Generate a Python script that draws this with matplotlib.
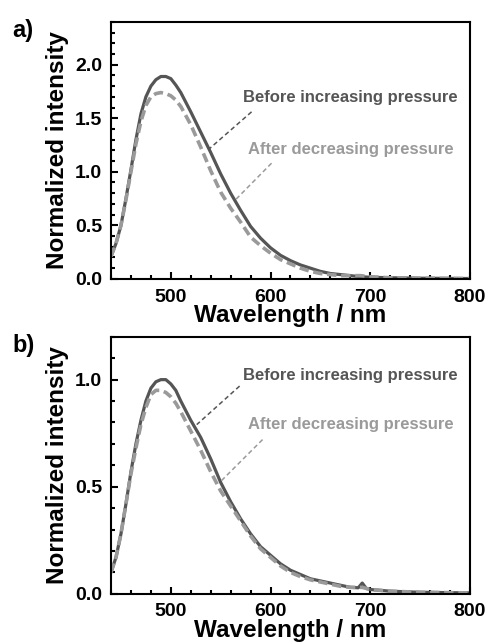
import numpy as np
import matplotlib
matplotlib.use('Agg')
import matplotlib.pyplot as plt
from matplotlib.ticker import MultipleLocator

plt.rcParams['font.family'] = ['Liberation Sans', 'DejaVu Sans']
plt.rcParams['font.weight'] = 'bold'

# Panel a) spectra
wl_a = [440, 445, 450, 455, 460, 465, 470, 475, 480, 485, 490, 495, 500, 505, 510,
        520, 530, 540, 550, 560, 570, 580, 590, 600, 610, 620, 630, 640, 650, 660,
        670, 680, 690, 700, 720, 750, 800]
before_a = [0.21, 0.33, 0.50, 0.75, 1.02, 1.30, 1.54, 1.70, 1.80, 1.86, 1.89, 1.89, 1.87, 1.81, 1.74,
            1.56, 1.37, 1.18, 0.98, 0.80, 0.64, 0.49, 0.38, 0.29, 0.22, 0.17, 0.13, 0.10, 0.07, 0.05,
            0.04, 0.03, 0.02, 0.015, 0.01, 0.006, 0.003]
after_a = [0.21, 0.33, 0.50, 0.74, 1.00, 1.26, 1.47, 1.62, 1.70, 1.73, 1.74, 1.73, 1.71, 1.67, 1.61,
           1.44, 1.23, 1.01, 0.81, 0.66, 0.53, 0.39, 0.31, 0.24, 0.18, 0.14, 0.10, 0.07, 0.05, 0.04,
           0.03, 0.03, 0.03, 0.02, 0.01, 0.006, 0.003]

# Panel b) spectra
wl_b = [440, 445, 450, 455, 460, 465, 470, 475, 480, 485, 490, 495, 500, 505, 510,
        520, 530, 540, 550, 560, 570, 580, 590, 600, 610, 620, 630, 640, 650, 660,
        670, 680, 688, 692, 696, 700, 720, 750, 800]
before_b = [0.10, 0.17, 0.28, 0.42, 0.57, 0.70, 0.81, 0.90, 0.96, 0.99, 1.00, 1.00, 0.98, 0.95, 0.90,
            0.81, 0.73, 0.63, 0.52, 0.43, 0.35, 0.28, 0.22, 0.18, 0.14, 0.11, 0.09, 0.07, 0.06, 0.05,
            0.04, 0.03, 0.028, 0.05, 0.025, 0.02, 0.012, 0.007, 0.004]
after_b = [0.10, 0.17, 0.28, 0.42, 0.56, 0.68, 0.79, 0.87, 0.93, 0.95, 0.95, 0.94, 0.92, 0.89, 0.85,
           0.76, 0.67, 0.57, 0.48, 0.41, 0.34, 0.27, 0.21, 0.17, 0.13, 0.10, 0.08, 0.065, 0.055, 0.045,
           0.035, 0.03, 0.03, 0.03, 0.025, 0.02, 0.012, 0.007, 0.004]

dark = '#555555'
light = '#9a9a9a'


def style_axes(ax, ymax, ymajor):
    ax.set_xlim(440, 800)
    ax.set_ylim(0, ymax)
    ax.xaxis.set_major_locator(MultipleLocator(100))
    ax.xaxis.set_minor_locator(MultipleLocator(20))
    ax.yaxis.set_major_locator(MultipleLocator(ymajor))
    ax.yaxis.set_minor_locator(MultipleLocator(0.1))
    ax.tick_params(which='both', direction='in', width=1.5, labelsize=14)
    ax.tick_params(axis='x', pad=7)
    ax.tick_params(axis='y', pad=6.5)
    ax.tick_params(which='major', length=5)
    ax.tick_params(which='minor', length=3)
    for lab in ax.get_xticklabels() + ax.get_yticklabels():
        lab.set_fontweight('bold')
    for s in ax.spines.values():
        s.set_linewidth(1.5)
    ax.set_xlabel('Wavelength / nm', fontsize=17.5, fontweight='bold', labelpad=-1)
    ax.set_ylabel('Normalized intensity', fontsize=17.5, fontweight='bold', labelpad=4)


def plot_panel(ax, wl, before, after, ymax, ymajor, texts, lines, tag):
    ax.plot(wl, before, color=dark, lw=2.3, solid_capstyle='round')
    ax.plot(wl, after, color=light, lw=2.6, dashes=(2.6, 1.3))
    style_axes(ax, ymax, ymajor)
    (bx, by), (axx, ay) = texts
    ax.text(bx, by, 'Before increasing pressure', color=dark, fontsize=12,
            fontweight='bold', ha='center', va='center')
    ax.text(axx, ay, 'After decreasing pressure', color=light, fontsize=12,
            fontweight='bold', ha='center', va='center')
    (l1, l2) = lines
    ax.plot(l1[0], l1[1], color=dark, lw=1.1, dashes=(3, 2))
    ax.plot(l2[0], l2[1], color=light, lw=1.1, dashes=(3, 2))
    ax.text(-0.275, 1.01, tag, transform=ax.transAxes, fontsize=17,
            fontweight='bold', ha='left', va='top')


fig = plt.figure(figsize=(4.89, 6.44), dpi=100)
ax1 = fig.add_axes([0.227, 0.567, 0.734, 0.399])
ax2 = fig.add_axes([0.227, 0.078, 0.734, 0.399])

plot_panel(ax1, wl_a, before_a, after_a, 2.4, 0.5,
           [(680, 1.69), (681, 1.21)],
           [([581, 538], [1.56, 1.21]), ([601, 565], [1.08, 0.74])], 'a)')
plot_panel(ax2, wl_b, before_b, after_b, 1.2, 0.5,
           [(680, 1.02), (681, 0.79)],
           [([569, 526], [0.97, 0.79]), ([592, 549], [0.72, 0.52])], 'b)')

fig.savefig('out.png', dpi=100)
